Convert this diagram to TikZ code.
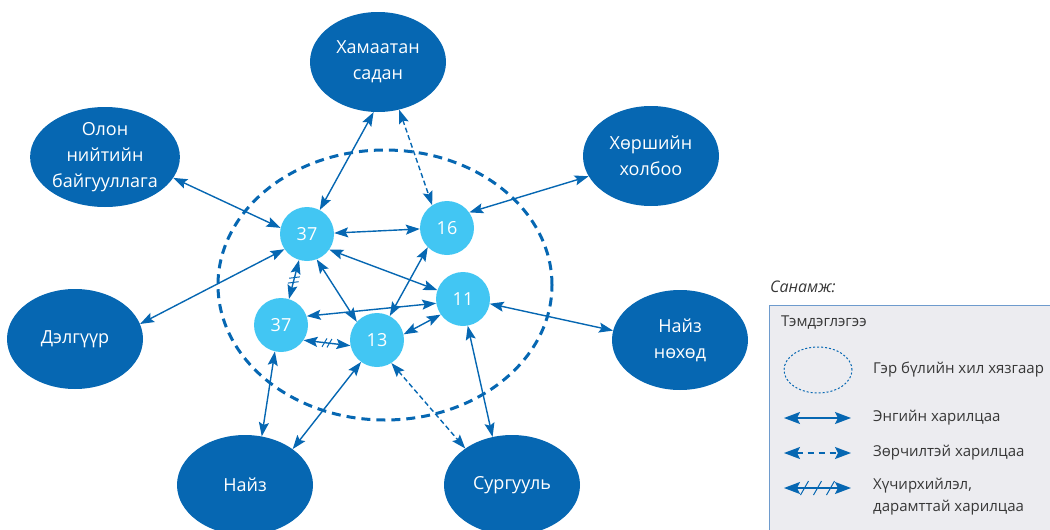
\documentclass[tikz,border=0pt]{standalone}
\usepackage{fontspec}
\setmainfont{Open Sans}
\usetikzlibrary{shapes.geometric,arrows.meta,decorations.markings}
\definecolor{dblue}{RGB}{6,103,178}
\definecolor{lblue}{RGB}{66,198,243}
\definecolor{legfill}{RGB}{236,236,240}
\definecolor{legdraw}{RGB}{110,155,205}
\definecolor{txt}{RGB}{55,55,55}
\begin{document}
\begin{tikzpicture}[x=1pt,y=-1pt,
  outer/.style={ellipse, fill=dblue, minimum width=136pt, minimum height=100pt, inner sep=0pt,
    text=white, font=\fontsize{18}{26}\selectfont, align=center},
  inner/.style={circle, fill=lblue, minimum size=54pt, inner sep=0pt, text=white,
    font=\fontsize{18}{22}\selectfont},
  myarr/.tip={Stealth[length=14pt,width=10pt,inset=2.5pt]},
  legarr/.tip={Stealth[length=16pt,width=12pt,inset=3pt]},
  rel/.style={draw=dblue, line width=1.4pt, myarr-myarr},
  conf/.style={rel, dash pattern=on 5pt off 3pt},
  legrel/.style={draw=dblue, line width=1.4pt, legarr-legarr},
  legconf/.style={legrel, dash pattern=on 6pt off 5pt},
  tick/.style={draw=dblue, line width=1pt, -, solid},
  hatchA/.style={rel, postaction={decorate}, decoration={markings,
    mark=at position 0.5 with {
      \draw[tick] (-4.5pt,-4.5pt) -- (-0.5pt,4.5pt);
      \draw[tick] (0.5pt,-4.5pt) -- (4.5pt,4.5pt);}}},
  hatchB/.style={rel, postaction={decorate}, decoration={markings,
    mark=at position 0.5 with {
      \draw[tick] (0pt,-5pt) -- (-4pt,5pt);
      \draw[tick] (5pt,-5pt) -- (1pt,5pt);}}},
  hatchL/.style={legrel, postaction={decorate}, decoration={markings,
    mark=at position 0.5 with {
      \draw[tick] (-17pt,-7pt) -- (-9pt,7pt);
      \draw[tick] (-4pt,-7pt) -- (4pt,7pt);
      \draw[tick] (9pt,-7pt) -- (17pt,7pt);}}},
  legtext/.style={anchor=west, text=txt, font=\fontsize{15}{22}\selectfont, inner sep=0pt, align=left}
]
\clip (0,0) rectangle (1050,530);

% family boundary
\node[ellipse, draw=dblue, line width=3pt, dash pattern=on 9pt off 6pt,
  minimum width=334pt, minimum height=270pt] (fam) at (385,285) {};

% outer nodes
\node[outer] (ham) at (378,62) {Хамаатан\\садан};
\node[outer] (olon) at (105,157) {Олон\\нийтийн\\байгууллага};
\node[outer] (hor) at (651,156) {Хөршийн\\холбоо};
\node[outer] (del) at (75,339) {Дэлгүүр};
\node[outer] (nn) at (680,340) {Найз\\нөхөд};
\node[outer] (naiz) at (245,485) {Найз};
\node[outer] (surg) at (512,485) {Сургууль};

% inner nodes
\node[inner] (a) at (307,234) {37};
\node[inner] (b) at (447,228) {16};
\node[inner] (c) at (463,299) {11};
\node[inner] (d) at (281,325) {37};
\node[inner] (e) at (377,340) {13};

% connectors
\draw[rel] (ham.-95.6) -- (a.62.6);
\draw[conf] (ham.-66.7) -- (b.123.7);
\draw[rel] (olon.-17.4) -- (a.167.5);
\draw[rel] (hor.198.4) -- (b.35.8);
\draw[rel] (del.13.2) -- (a.214.8);
\draw[rel] (nn.172.3) -- (c.-10.5);
\draw[rel] (a.2.4) -- (b.182);
\draw[rel] (a.-35.3) -- (c.161);
\draw[rel] (a.-69.2) -- (e.138.8);
\draw[rel] (b.-135) -- (e.62.6);
\draw[rel] (d.19.7) -- (c.189.8);
\draw[rel] (c.215.3) -- (e.12.5);
\draw[hatchB] (a.-107) -- (d.73);
\draw[hatchA] (d.-34.3) -- (e.192.1);
\draw[rel] (d.-103.6) -- (naiz.71.9);
\draw[rel] (e.-126.9) -- (naiz.37.2);
\draw[conf] (e.-58) -- (surg.142.8);
\draw[rel] (c.-80.8) -- (surg.112.8);

% legend
\node[anchor=west, inner sep=0pt, text=txt, font=\fontsize{16}{18}\itshape] (san) at (770,287) {Санамж:};
\draw[legdraw, fill=legfill, line width=1pt] (769.5,305) rectangle (1060,540);
\node[legtext] (tem) at (781,323) {Тэмдэглэгээ};
\node[ellipse, draw=dblue, line width=1pt, dash pattern=on 2pt off 2pt,
  minimum width=68pt, minimum height=46pt] (lege) at (818,370) {};
\node[legtext] (t1) at (873,370) {Гэр бүлийн хил хязгаар};
\coordinate (l1a) at (784,418); \coordinate (l1b) at (851,418);
\draw[legrel] (l1a) -- (l1b);
\node[legtext] (t2) at (873,418) {Энгийн харилцаа};
\coordinate (l2a) at (784,453); \coordinate (l2b) at (851,453);
\draw[legconf] (l2a) -- (l2b);
\node[legtext] (t3) at (873,453) {Зөрчилтэй харилцаа};
\coordinate (l3a) at (784,488); \coordinate (l3b) at (851,488);
\draw[hatchL] (l3a) -- (l3b);
\node[legtext, anchor=north west] (t4) at (873,478) {Хүчирхийлэл,\\дарамттай харилцаа};
\end{tikzpicture}
\end{document}
